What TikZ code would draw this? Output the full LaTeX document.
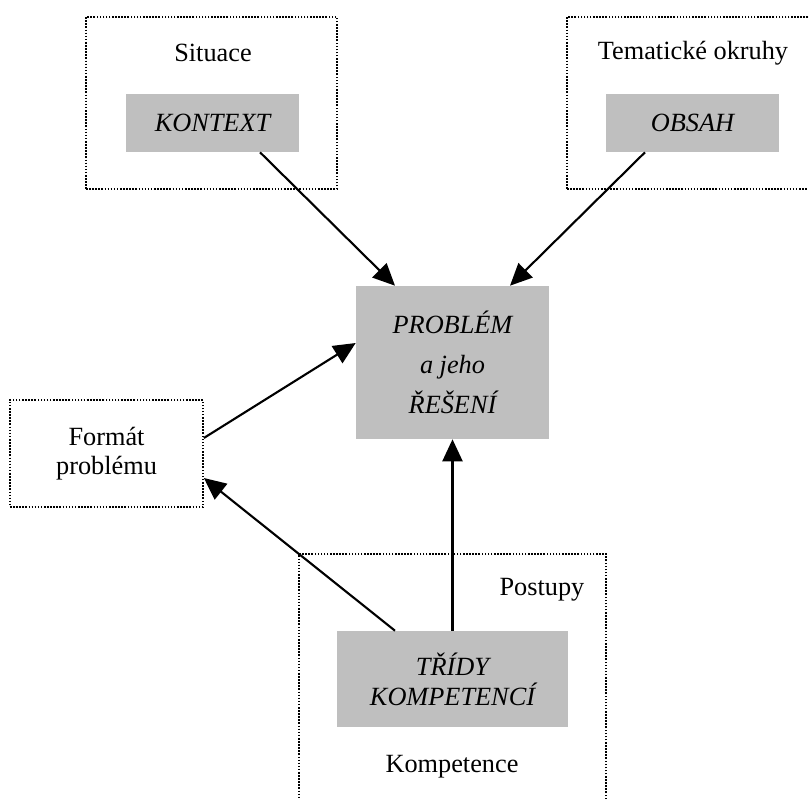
\documentclass[tikz,border=0pt]{standalone}
\usepackage{fontspec}
\setmainfont{Liberation Serif}
\usetikzlibrary{arrows.meta,calc}
\begin{document}
\begin{tikzpicture}
[x=0.025cm,y=-0.025cm,
dotbox/.style={draw,line width=1.2pt,dash pattern=on 1.1pt off 1.1pt,inner sep=0pt,align=center,font=\fontsize{18.7}{20.6}\selectfont},
greybox/.style={fill=black!25,inner sep=0pt,align=center,font=\fontsize{18.7}{21.3}\selectfont\itshape},
caption/.style={inner sep=0pt,font=\fontsize{18.7}{20.6}\selectfont},
myarrow/.style={-{Triangle[length=5.5mm,width=5mm]},line width=1.5pt}]
\useasboundingbox (0,0) rectangle (808,800);
\clip (0,0) rectangle (808,800);

% frames
\node (sitframe) at (211.5,103) [dotbox,minimum width=6.275cm,minimum height=4.3cm] {};
\node (temframe) at (692.5,103) [dotbox,minimum width=6.275cm,minimum height=4.3cm] {};
\node (postframe) at (452.5,687) [dotbox,minimum width=7.675cm,minimum height=6.65cm] {};
\node (format) at (106.5,453.5) [dotbox,minimum width=4.825cm,minimum height=2.675cm] {Formát\\problému};

\node (situace) at (213,53) [caption] {Situace};
\node (tema) at (693,53) [caption] {Tematické okruhy};
\node (postupy) at (542,590) [caption] {Postupy};
\node (kompetence) at (452,767) [caption] {Kompetence};

% grey boxes
\node (kontext) at (212.5,123) [greybox,minimum width=4.325cm,minimum height=1.45cm] {KONTEXT};
\node (obsah) at (692.5,123) [greybox,minimum width=4.325cm,minimum height=1.45cm] {OBSAH};
\node (problem) at (452.5,362.5) [greybox,minimum width=4.825cm,minimum height=3.825cm,font=\fontsize{18.7}{28.5}\selectfont\itshape] {PROBLÉM\\a jeho\\ŘEŠENÍ};
\node (tridy) at (452.5,679) [greybox,minimum width=5.775cm,minimum height=2.4cm] {TŘÍDY\\KOMPETENCÍ};

% arrows
\draw [myarrow] ($(kontext.south)+(47.5,0)$) -- ($(problem.north)+(-57.5,0)$);
\draw [myarrow] ($(obsah.south)+(-47.5,0)$) -- ($(problem.north)+(57.5,0)$);
\draw [myarrow] ($(format.east)+(0,-15.5)$) -- ($(problem.west)+(0,-19.5)$);
\draw [myarrow] (tridy.north) -- (problem.south);
\draw [myarrow] ($(tridy.north)+(-57.5,0)$) -- ($(format.east)+(0,24.5)$);

\end{tikzpicture}
\end{document}
